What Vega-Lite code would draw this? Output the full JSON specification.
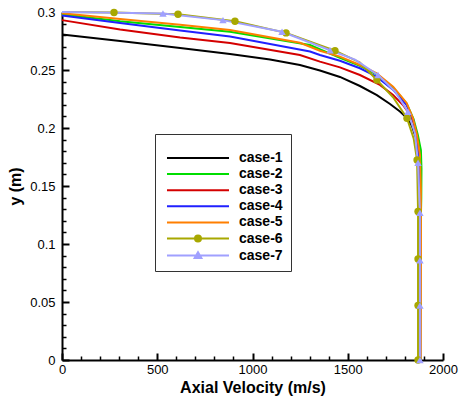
{
  "$schema": "https://vega.github.io/schema/vega-lite/v6.json",
  "width": 381,
  "height": 348,
  "autosize": {"type": "none"},
  "padding": {"left": 62, "top": 12, "right": 16, "bottom": 41},
  "background": "white",
  "config": {"view": {"stroke": null}, "font": "Liberation Sans"},
  "data": {"values": [
    {"case": "case-1", "v": 0, "y": 0.2806, "m": 0},
    {"case": "case-1", "v": 305, "y": 0.275, "m": 0},
    {"case": "case-1", "v": 620, "y": 0.269, "m": 0},
    {"case": "case-1", "v": 882, "y": 0.2638, "m": 0},
    {"case": "case-1", "v": 1092, "y": 0.2591, "m": 0},
    {"case": "case-1", "v": 1249, "y": 0.2543, "m": 0},
    {"case": "case-1", "v": 1354, "y": 0.2496, "m": 0},
    {"case": "case-1", "v": 1459, "y": 0.244, "m": 0},
    {"case": "case-1", "v": 1564, "y": 0.2362, "m": 0},
    {"case": "case-1", "v": 1653, "y": 0.2284, "m": 0},
    {"case": "case-1", "v": 1722, "y": 0.2207, "m": 0},
    {"case": "case-1", "v": 1774, "y": 0.2142, "m": 0},
    {"case": "case-1", "v": 1811, "y": 0.2086, "m": 0},
    {"case": "case-1", "v": 1837, "y": 0.2017, "m": 0},
    {"case": "case-1", "v": 1858, "y": 0.1914, "m": 0},
    {"case": "case-1", "v": 1871, "y": 0.1793, "m": 0},
    {"case": "case-1", "v": 1877, "y": 0.1638, "m": 0},
    {"case": "case-1", "v": 1879, "y": 0.1466, "m": 0},
    {"case": "case-1", "v": 1880, "y": 0.1, "m": 0},
    {"case": "case-1", "v": 1880, "y": 0, "m": 0},
    {"case": "case-2", "v": 0, "y": 0.298, "m": 0},
    {"case": "case-2", "v": 305, "y": 0.292, "m": 0},
    {"case": "case-2", "v": 620, "y": 0.287, "m": 0},
    {"case": "case-2", "v": 882, "y": 0.283, "m": 0},
    {"case": "case-2", "v": 1302, "y": 0.2715, "m": 0},
    {"case": "case-2", "v": 1459, "y": 0.2605, "m": 0},
    {"case": "case-2", "v": 1564, "y": 0.2535, "m": 0},
    {"case": "case-2", "v": 1652, "y": 0.2462, "m": 0},
    {"case": "case-2", "v": 1738, "y": 0.235, "m": 0},
    {"case": "case-2", "v": 1809, "y": 0.221, "m": 0},
    {"case": "case-2", "v": 1845, "y": 0.208, "m": 0},
    {"case": "case-2", "v": 1868, "y": 0.194, "m": 0},
    {"case": "case-2", "v": 1884, "y": 0.181, "m": 0},
    {"case": "case-2", "v": 1887, "y": 0.165, "m": 0},
    {"case": "case-2", "v": 1886, "y": 0.14, "m": 0},
    {"case": "case-2", "v": 1881, "y": 0.1, "m": 0},
    {"case": "case-2", "v": 1880, "y": 0, "m": 0},
    {"case": "case-3", "v": 0, "y": 0.293, "m": 0},
    {"case": "case-3", "v": 305, "y": 0.285, "m": 0},
    {"case": "case-3", "v": 620, "y": 0.278, "m": 0},
    {"case": "case-3", "v": 882, "y": 0.2733, "m": 0},
    {"case": "case-3", "v": 1249, "y": 0.2629, "m": 0},
    {"case": "case-3", "v": 1354, "y": 0.2572, "m": 0},
    {"case": "case-3", "v": 1459, "y": 0.2523, "m": 0},
    {"case": "case-3", "v": 1564, "y": 0.2457, "m": 0},
    {"case": "case-3", "v": 1669, "y": 0.2371, "m": 0},
    {"case": "case-3", "v": 1738, "y": 0.2284, "m": 0},
    {"case": "case-3", "v": 1790, "y": 0.2198, "m": 0},
    {"case": "case-3", "v": 1827, "y": 0.2112, "m": 0},
    {"case": "case-3", "v": 1848, "y": 0.2034, "m": 0},
    {"case": "case-3", "v": 1863, "y": 0.1931, "m": 0},
    {"case": "case-3", "v": 1874, "y": 0.1793, "m": 0},
    {"case": "case-3", "v": 1879, "y": 0.1638, "m": 0},
    {"case": "case-3", "v": 1880, "y": 0.1, "m": 0},
    {"case": "case-3", "v": 1880, "y": 0, "m": 0},
    {"case": "case-4", "v": 0, "y": 0.297, "m": 0},
    {"case": "case-4", "v": 305, "y": 0.2905, "m": 0},
    {"case": "case-4", "v": 620, "y": 0.284, "m": 0},
    {"case": "case-4", "v": 882, "y": 0.2789, "m": 0},
    {"case": "case-4", "v": 1302, "y": 0.266, "m": 0},
    {"case": "case-4", "v": 1354, "y": 0.2629, "m": 0},
    {"case": "case-4", "v": 1459, "y": 0.258, "m": 0},
    {"case": "case-4", "v": 1564, "y": 0.2515, "m": 0},
    {"case": "case-4", "v": 1652, "y": 0.2442, "m": 0},
    {"case": "case-4", "v": 1739, "y": 0.2328, "m": 0},
    {"case": "case-4", "v": 1809, "y": 0.2198, "m": 0},
    {"case": "case-4", "v": 1844, "y": 0.2069, "m": 0},
    {"case": "case-4", "v": 1862, "y": 0.1925, "m": 0},
    {"case": "case-4", "v": 1874, "y": 0.1724, "m": 0},
    {"case": "case-4", "v": 1879, "y": 0.155, "m": 0},
    {"case": "case-4", "v": 1880, "y": 0.1, "m": 0},
    {"case": "case-4", "v": 1880, "y": 0, "m": 0},
    {"case": "case-5", "v": 0, "y": 0.299, "m": 0},
    {"case": "case-5", "v": 305, "y": 0.294, "m": 0},
    {"case": "case-5", "v": 620, "y": 0.289, "m": 0},
    {"case": "case-5", "v": 882, "y": 0.2845, "m": 0},
    {"case": "case-5", "v": 1249, "y": 0.2735, "m": 0},
    {"case": "case-5", "v": 1354, "y": 0.2666, "m": 0},
    {"case": "case-5", "v": 1459, "y": 0.2615, "m": 0},
    {"case": "case-5", "v": 1564, "y": 0.2543, "m": 0},
    {"case": "case-5", "v": 1652, "y": 0.2472, "m": 0},
    {"case": "case-5", "v": 1738, "y": 0.2356, "m": 0},
    {"case": "case-5", "v": 1809, "y": 0.2216, "m": 0},
    {"case": "case-5", "v": 1842, "y": 0.2086, "m": 0},
    {"case": "case-5", "v": 1863, "y": 0.194, "m": 0},
    {"case": "case-5", "v": 1879, "y": 0.1767, "m": 0},
    {"case": "case-5", "v": 1884, "y": 0.147, "m": 0},
    {"case": "case-5", "v": 1884, "y": 0.095, "m": 0},
    {"case": "case-5", "v": 1882, "y": 0, "m": 0},
    {"case": "case-6", "v": 0, "y": 0.300, "m": 0},
    {"case": "case-6", "v": 273, "y": 0.2995, "m": 1},
    {"case": "case-6", "v": 609, "y": 0.298, "m": 1},
    {"case": "case-6", "v": 908, "y": 0.292, "m": 1},
    {"case": "case-6", "v": 1176, "y": 0.282, "m": 1},
    {"case": "case-6", "v": 1433, "y": 0.2667, "m": 1},
    {"case": "case-6", "v": 1564, "y": 0.2565, "m": 0},
    {"case": "case-6", "v": 1653, "y": 0.2414, "m": 1},
    {"case": "case-6", "v": 1738, "y": 0.2265, "m": 0},
    {"case": "case-6", "v": 1811, "y": 0.2084, "m": 1},
    {"case": "case-6", "v": 1846, "y": 0.191, "m": 0},
    {"case": "case-6", "v": 1864, "y": 0.1724, "m": 1},
    {"case": "case-6", "v": 1869, "y": 0.128, "m": 1},
    {"case": "case-6", "v": 1869, "y": 0.087, "m": 1},
    {"case": "case-6", "v": 1869, "y": 0.047, "m": 1},
    {"case": "case-6", "v": 1869, "y": 0, "m": 1},
    {"case": "case-7", "v": 0, "y": 0.300, "m": 0},
    {"case": "case-7", "v": 200, "y": 0.2996, "m": 0},
    {"case": "case-7", "v": 530, "y": 0.2987, "m": 1},
    {"case": "case-7", "v": 845, "y": 0.293, "m": 1},
    {"case": "case-7", "v": 1155, "y": 0.283, "m": 1},
    {"case": "case-7", "v": 1407, "y": 0.267, "m": 1},
    {"case": "case-7", "v": 1538, "y": 0.259, "m": 0},
    {"case": "case-7", "v": 1659, "y": 0.2457, "m": 1},
    {"case": "case-7", "v": 1748, "y": 0.2315, "m": 0},
    {"case": "case-7", "v": 1816, "y": 0.2140, "m": 1},
    {"case": "case-7", "v": 1853, "y": 0.195, "m": 0},
    {"case": "case-7", "v": 1869, "y": 0.1700, "m": 1},
    {"case": "case-7", "v": 1879, "y": 0.127, "m": 1},
    {"case": "case-7", "v": 1879, "y": 0.086, "m": 1},
    {"case": "case-7", "v": 1879, "y": 0.047, "m": 1},
    {"case": "case-7", "v": 1879, "y": 0, "m": 1}
  ]},
  "layer": [
    {
      "mark": {"type": "line", "strokeWidth": 2},
      "encoding": {
        "x": {
          "field": "v", "type": "quantitative",
          "scale": {"domain": [0, 2000], "nice": false, "zero": false},
          "axis": {
            "orient": "bottom", "values": [0, 500, 1000, 1500, 2000], "format": "d",
            "grid": false, "tickSize": -7, "tickWidth": 2, "tickColor": "black",
            "domainColor": "black", "domainWidth": 2,
            "labelPadding": 10, "labelFont": "Liberation Sans", "labelFontSize": 13, "labelColor": "black",
            "labelFlush": false, "labelOverlap": false,
            "title": "Axial Velocity (m/s)", "titleFont": "Liberation Sans", "titleFontSize": 16,
            "titleFontWeight": "bold", "titleColor": "black", "titlePadding": 3
          }
        },
        "y": {
          "field": "y", "type": "quantitative",
          "scale": {"domain": [0, 0.3], "nice": false, "zero": false},
          "axis": {
            "orient": "left", "values": [0, 0.05, 0.1, 0.15, 0.2, 0.25, 0.3], "format": "~g",
            "grid": false, "tickSize": -7, "tickWidth": 2, "tickColor": "black",
            "domainColor": "black", "domainWidth": 2,
            "labelPadding": 14, "labelFont": "Liberation Sans", "labelFontSize": 13, "labelColor": "black",
            "labelFlush": false, "labelOverlap": false,
            "title": "y (m)", "titleFont": "Liberation Sans", "titleFontSize": 16,
            "titleFontWeight": "bold", "titleColor": "black", "titlePadding": 6
          }
        },
        "color": {
          "field": "case", "type": "nominal",
          "scale": {
            "domain": ["case-1", "case-2", "case-3", "case-4", "case-5", "case-6", "case-7"],
            "range": ["#000000", "#00DD00", "#D40000", "#2020FF", "#FF7F00", "#A8A800", "#A0A0FF"]
          },
          "legend": {
            "orient": "none", "legendX": 93, "legendY": 122,
            "title": " ", "titleFontSize": 1, "titlePadding": 7,
            "padding": 8, "strokeColor": "#333333", "fillColor": "white",
            "symbolSize": 196, "symbolStrokeWidth": 2, "symbolOffset": 27, "labelOffset": 33,
            "labelFont": "Liberation Sans", "labelFontSize": 14, "labelFontWeight": "bold",
            "labelColor": "black", "rowPadding": 1.1, "labelLimit": 200,
            "encode": {
              "symbols": {
                "update": {
                  "shape": {"signal": "datum.value === 'case-6' ? 'M-4.43,0H4.43M0.43,0A0.43,0.43,0,1,1,-0.43,0A0.43,0.43,0,1,1,0.43,0Z' : datum.value === 'case-7' ? 'M-4.43,0H4.43M0,-0.48L0.48,0.35L-0.48,0.35Z' : 'M-4.43,0H4.43'"},
                  "fill": {"scale": "color", "field": "value"},
                  "stroke": {"scale": "color", "field": "value"},
                  "strokeWidth": {"value": 2},
                  "opacity": {"value": 1},
                  "fillOpacity": {"value": 1}
                }
              }
            }
          }
        },
        "order": {"value": null}
      }
    },
    {
      "transform": [{"filter": "datum.m == 1"}],
      "mark": {"type": "point", "filled": true, "size": 55, "opacity": 1},
      "encoding": {
        "x": {
          "field": "v", "type": "quantitative",
          "axis": {
            "orient": "bottom",
            "values": [100, 200, 300, 400, 600, 700, 800, 900, 1100, 1200, 1300, 1400, 1600, 1700, 1800, 1900],
            "grid": false, "labels": false, "domain": false, "title": null,
            "tickSize": -4, "tickWidth": 1.5, "tickColor": "black"
          }
        },
        "y": {
          "field": "y", "type": "quantitative",
          "axis": {
            "orient": "left",
            "values": [0.01, 0.02, 0.03, 0.04, 0.06, 0.07, 0.08, 0.09, 0.11, 0.12, 0.13, 0.14, 0.16, 0.17, 0.18, 0.19, 0.21, 0.22, 0.23, 0.24, 0.26, 0.27, 0.28, 0.29],
            "grid": false, "labels": false, "domain": false, "title": null,
            "tickSize": -4, "tickWidth": 1.5, "tickColor": "black"
          }
        },
        "color": {"field": "case", "type": "nominal", "legend": null},
        "shape": {
          "field": "case", "type": "nominal",
          "scale": {"domain": ["case-6", "case-7"], "range": ["circle", "triangle-up"]},
          "legend": null
        }
      }
    }
  ],
  "resolve": {"axis": {"x": "independent", "y": "independent"}}
}
